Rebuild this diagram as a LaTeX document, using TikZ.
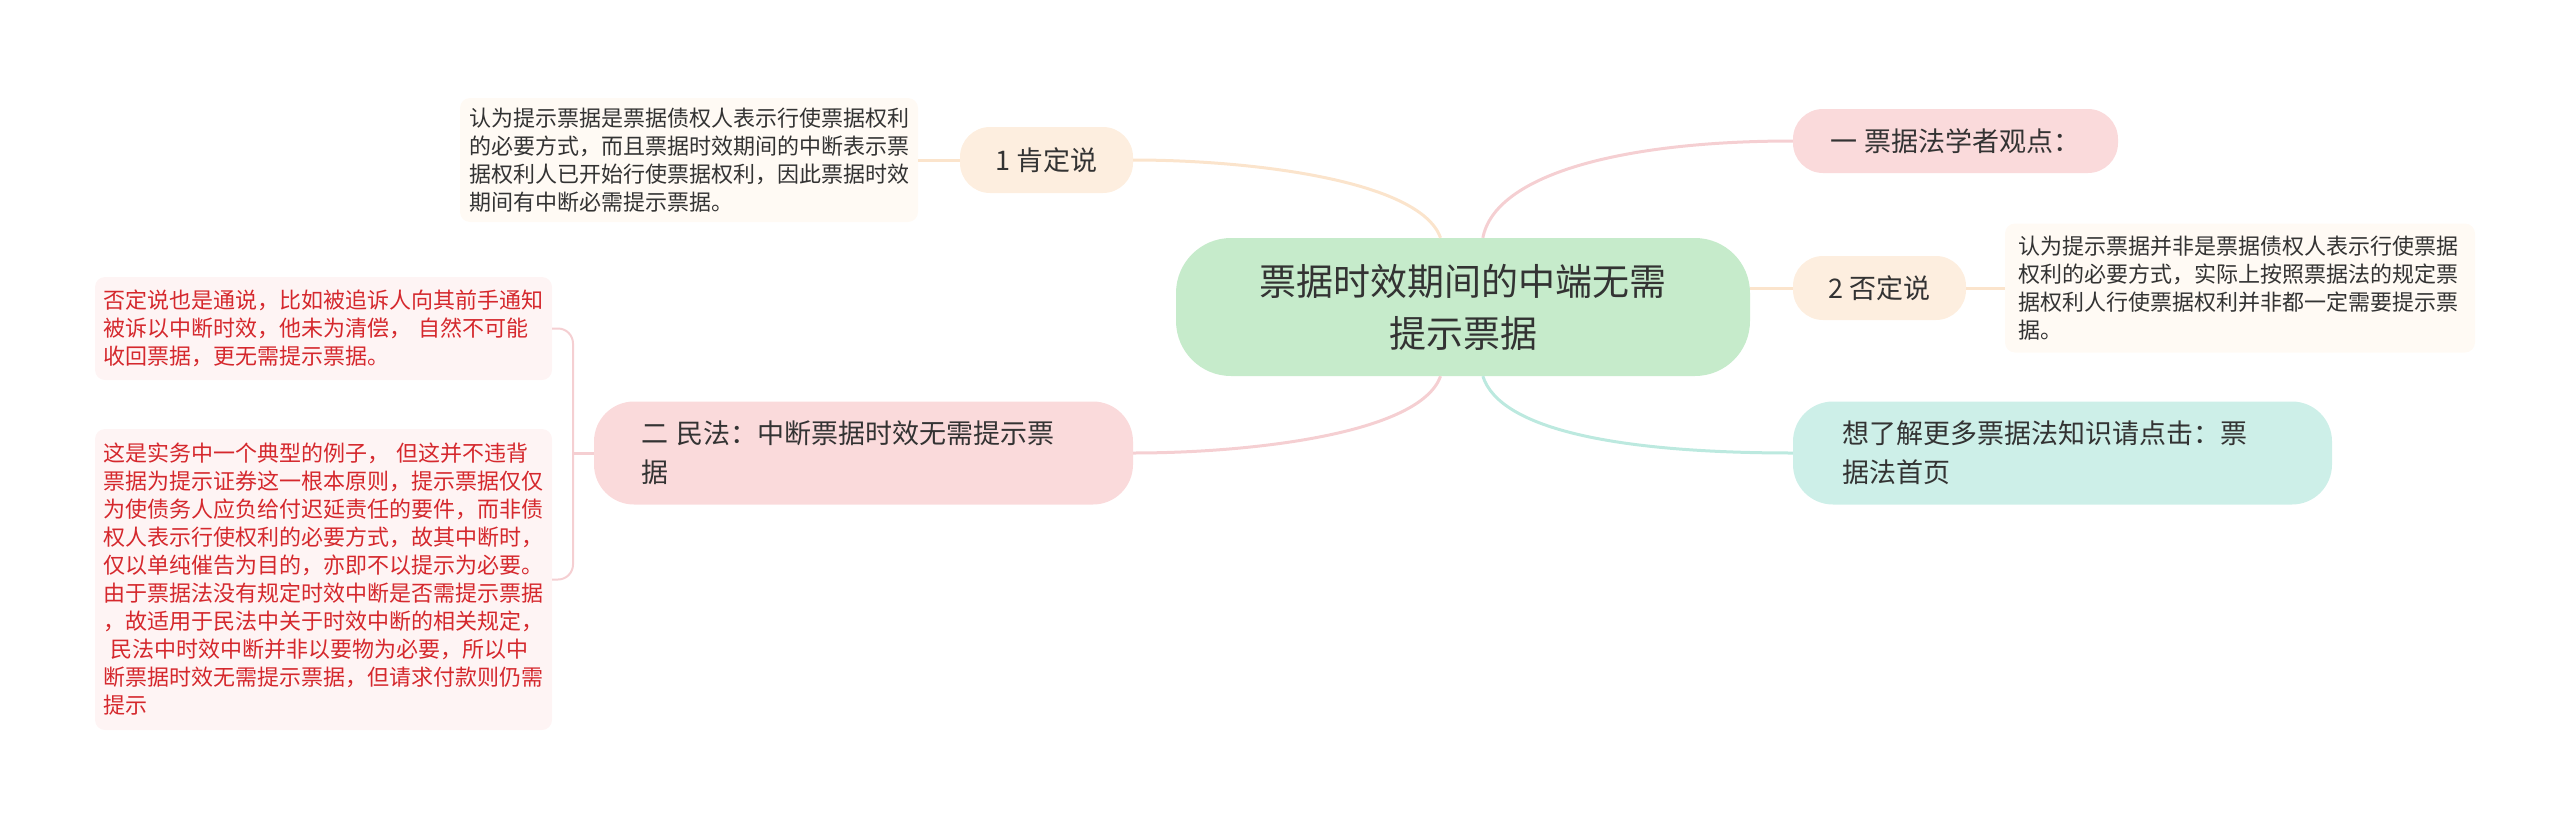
\documentclass[tikz,border=0pt]{standalone}
\usepackage{fontspec}
\setmainfont{Noto Sans CJK SC}
\definecolor{rootgreen}{HTML}{C6EBCB}
\definecolor{peach}{HTML}{FDEEDF}
\definecolor{pinkfill}{HTML}{FADADB}
\definecolor{tealfill}{HTML}{CDEFE8}
\definecolor{cream}{HTML}{FFFAF4}
\definecolor{blush}{HTML}{FEF4F4}
\definecolor{notered}{HTML}{D5282D}
\definecolor{inkgray}{HTML}{333333}
\definecolor{peachline}{HTML}{FBE4CC}
\definecolor{pinkline}{HTML}{F5CFD2}
\definecolor{tealline}{HTML}{BCE9DF}

\begin{document}
\begin{tikzpicture}[x=1pt, y=1pt,
  branch/.style={rounded corners=30pt, text=inkgray, font=\fontsize{27}{39}\selectfont, minimum height=66pt, inner ysep=0pt},
  note/.style={rounded corners=10pt, font=\fontsize{22}{28}\selectfont, align=left, inner xsep=9pt, inner ysep=0pt},
  link/.style={line width=3pt}]

\useasboundingbox (0,0) rectangle (2560,-825);

\node[fill=rootgreen, rounded corners=55pt, minimum width=574pt, minimum height=138pt,
  font=\fontsize{37}{52}\selectfont, text=inkgray, align=center] (root) at (1463,-307) {票据时效期间的中端无需\\提示票据};

\node[branch, fill=peach, minimum width=173pt] (kd) at (1046.5,-160) {1 肯定说};
\node[branch, fill=pinkfill, minimum width=325pt, minimum height=64pt] (xz) at (1955.5,-141) {一 票据法学者观点：};
\node[branch, fill=peach, minimum width=173pt, minimum height=64pt] (fd) at (1879.5,-288) {2 否定说};
\node[branch, fill=pinkfill, rounded corners=40pt, minimum height=103pt, text width=445pt, inner xsep=47pt, align=left] (mf) at (863.5,-453) {二 民法：中断票据时效无需提示票\\据};
\node[branch, fill=tealfill, rounded corners=40pt, minimum height=103pt, text width=441pt, inner xsep=49pt, align=left] (lj) at (2062.5,-453) {想了解更多票据法知识请点击：票\\据法首页};

\node[note, fill=cream, text=inkgray, text width=440pt, minimum height=124pt] (t1) at (689,-160) {认为提示票据是票据债权人表示行使票据权利\\的必要方式，而且票据时效期间的中断表示票\\据权利人已开始行使票据权利，因此票据时效\\期间有中断必需提示票据。};
\node[note, fill=cream, text=inkgray, text width=444pt, inner xsep=13pt, minimum height=129pt] (t2) at (2240,-288) {认为提示票据并非是票据债权人表示行使票据\\权利的必要方式，实际上按照票据法的规定票\\据权利人行使票据权利并非都一定需要提示票\\据。};
\node[note, fill=blush, text=notered, text width=440pt, inner xsep=8.5pt, minimum height=103pt] (ra) at (323.5,-328.5) {否定说也是通说，比如被追诉人向其前手通知\\被诉以中断时效，他未为清偿， 自然不可能\\收回票据，更无需提示票据。};
\node[note, fill=blush, text=notered, text width=440pt, inner xsep=8.5pt, minimum height=301pt] (rb) at (323.5,-579.5) {这是实务中一个典型的例子， 但这并不违背\\票据为提示证券这一根本原则，提示票据仅仅\\为使债务人应负给付迟延责任的要件，而非债\\权人表示行使权利的必要方式，故其中断时，\\仅以单纯催告为目的，亦即不以提示为必要。\\由于票据法没有规定时效中断是否需提示票据\\，故适用于民法中关于时效中断的相关规定，\\\hspace*{0.3em}民法中时效中断并非以要物为必要，所以中\\断票据时效无需提示票据，但请求付款则仍需\\提示};

\draw[link, peachline] (root.108) .. controls (1420,-180) and (1250,-160) .. (kd.east);
\draw[link, pinkline] (root.252) .. controls (1420,-434) and (1250,-453) .. (mf.east);
\draw[link, pinkline] (root.74) .. controls (1495,-175) and (1620,-141) .. (xz.west);
\draw[link, tealline] (root.286) .. controls (1500,-430) and (1620,-453) .. (lj.west);
\draw[link, peachline] (root.east |- fd.west) -- (fd.west);
\draw[link, peachline] (fd.east) -- (t2.west);
\draw[link, peachline] (t1.east) -- (kd.west);

\coordinate (fork) at (573,-453);
\draw[link, pinkline] (mf.west) -- (fork);
\draw[line width=2pt, pinkline, rounded corners=15pt] (ra.east) -| (fork) |- (rb.east);

\end{tikzpicture}
\end{document}
